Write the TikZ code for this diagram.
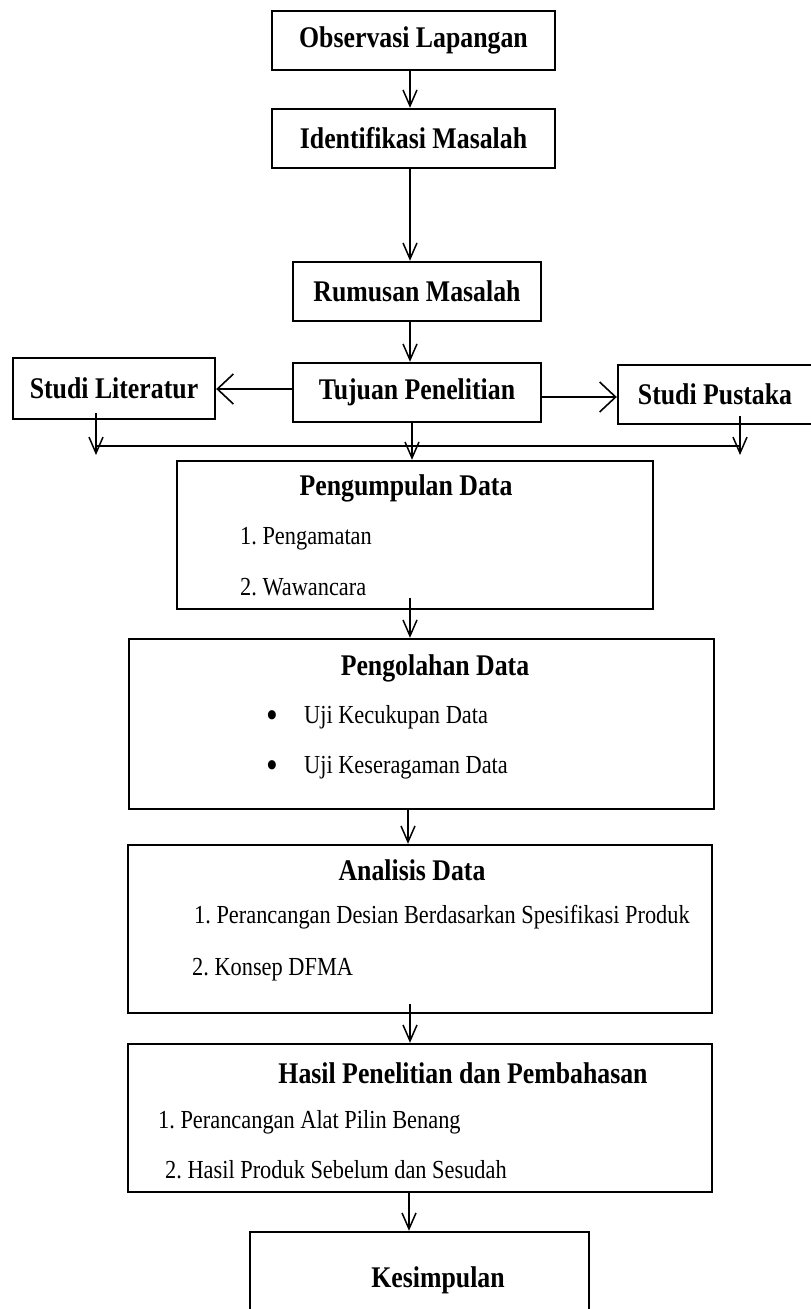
\documentclass[tikz,border=0pt]{standalone}
\usepackage{fontspec}
\setmainfont{Liberation Serif}[FakeStretch=0.86]
\usetikzlibrary{arrows.meta,calc}
\begin{document}
\frenchspacing
\begin{tikzpicture}[x=1pt,y=-1pt,
  box/.style={draw, line width=2.4pt, inner sep=0pt, font=\fontsize{30}{36}\selectfont\bfseries},
  ttl/.style={inner sep=0pt, anchor=base, font=\fontsize{30}{36}\selectfont\bfseries},
  itm/.style={inner sep=0pt, anchor=base west, font=\fontsize{26}{30}\selectfont\frenchspacing},
  bul/.style={inner sep=0pt, anchor=base, font=\fontsize{34}{36}\selectfont\bfseries},
  varr/.style={line width=1.5pt, -{Straight Barb[length=16pt,width=14pt,line width=1.5pt]}},
  harr/.style={line width=2pt, -{Straight Barb[length=16pt,width=30pt,line width=1.6pt]}},
  busline/.style={line width=2.4pt}]
\useasboundingbox (0,0) rectangle (811,1309);
\clip (0,0) rectangle (811,1309);
\fill[white] (0,0) rectangle (811,1309);

% single-line boxes
\node[box, minimum width=283pt, minimum height=59pt] (obs) at (413.5,40.5) {Observasi Lapangan};
\node[box, minimum width=283pt, minimum height=59pt] (ident) at (413.5,138.5) {Identifikasi Masalah};
\node[box, minimum width=248pt, minimum height=59pt] (rumus) at (417,291.5) {Rumusan Masalah};
\node[box, minimum width=248pt, minimum height=59pt] (tujuan) at (417,392.5) {Tujuan Penelitian};
\node[box, minimum width=202pt, minimum height=61pt] (lit) at (114,388.5) {Studi Literatur};
\node[draw, line width=2.4pt, minimum width=200pt, minimum height=59pt, inner sep=0pt] (pust) at (718,394.5) {};
\node[ttl, anchor=center] (pusttxt) at (715,394.5) {Studi Pustaka};

% multi-line boxes
\node[draw, line width=2.4pt, minimum width=476pt, minimum height=148pt, inner sep=0pt] (kumpul) at (415,535) {};
\node[ttl] (kumpulttl) at (406,495) {Pengumpulan Data};
\node[itm] (k1) at (240,544) {1. Pengamatan};
\node[itm] (k2) at (240,595) {2. Wawancara};

\node[draw, line width=2.4pt, minimum width=585pt, minimum height=170pt, inner sep=0pt] (olah) at (421.5,724) {};
\node[ttl] (olahttl) at (435,675) {Pengolahan Data};
\node[bul] (b1) at (272,726) {•};
\node[itm] (o1) at (304,723) {Uji Kecukupan Data};
\node[bul] (b2) at (272,776) {•};
\node[itm] (o2) at (304,773) {Uji Keseragaman Data};

\node[draw, line width=2.4pt, minimum width=584pt, minimum height=168pt, inner sep=0pt] (anal) at (420,929) {};
\node[ttl] (analttl) at (412,880) {Analisis Data};
\node[itm] (a1) at (194,923) {1. Perancangan Desian Berdasarkan Spesifikasi Produk};
\node[itm] (a2) at (192,975) {2. Konsep DFMA};

\node[draw, line width=2.4pt, minimum width=584pt, minimum height=148pt, inner sep=0pt] (hasil) at (420,1118) {};
\node[ttl] (hasilttl) at (463,1083) {Hasil Penelitian dan Pembahasan};
\node[itm] (h1) at (158,1128) {1. Perancangan Alat Pilin Benang};
\node[itm] (h2) at (165,1178) {2. Hasil Produk Sebelum dan Sesudah};

\node[draw, line width=2.4pt, minimum width=339pt, minimum height=110pt, inner sep=0pt] (simpul) at (419.5,1287) {};
\node[ttl] (simpulttl) at (438,1287) {Kesimpulan};

% connectors
\draw[varr] (obs.south -| 410,0) -- (ident.north -| 410,0);
\draw[varr] (ident.south -| 410,0) -- (rumus.north -| 410,0);
\draw[varr] (rumus.south -| 410,0) -- (tujuan.north -| 410,0);
\draw[harr] ([yshift=3.5pt]tujuan.west) -- ([yshift=3.5pt]tujuan.west -| lit.east);
\draw[harr] ([yshift=-4.5pt]tujuan.east) -- ([yshift=-4.5pt]tujuan.east -| pust.west);

\coordinate (busL) at (96,446);
\coordinate (busR) at (740,446);
\coordinate (litD) at (96,455);
\coordinate (pustD) at (740,455);
\draw[busline] (busL) -- (busR);
\draw[varr] ([yshift=7pt]lit.south -| litD) -- (litD);
\draw[varr] ([yshift=9pt]pust.south -| pustD) -- (pustD);
\draw[varr] (tujuan.south -| 412,0) -- (kumpul.north -| 412,0);

\draw[varr] ([yshift=12pt]kumpul.south -| 410,0) -- (olah.north -| 410,0);
\draw[varr] (olah.south -| 408,0) -- (anal.north -| 408,0);
\draw[varr] ([yshift=10pt]anal.south -| 410,0) -- (hasil.north -| 410,0);
\draw[varr] (hasil.south -| 409,0) -- (simpul.north -| 409,0);
\end{tikzpicture}
\end{document}
